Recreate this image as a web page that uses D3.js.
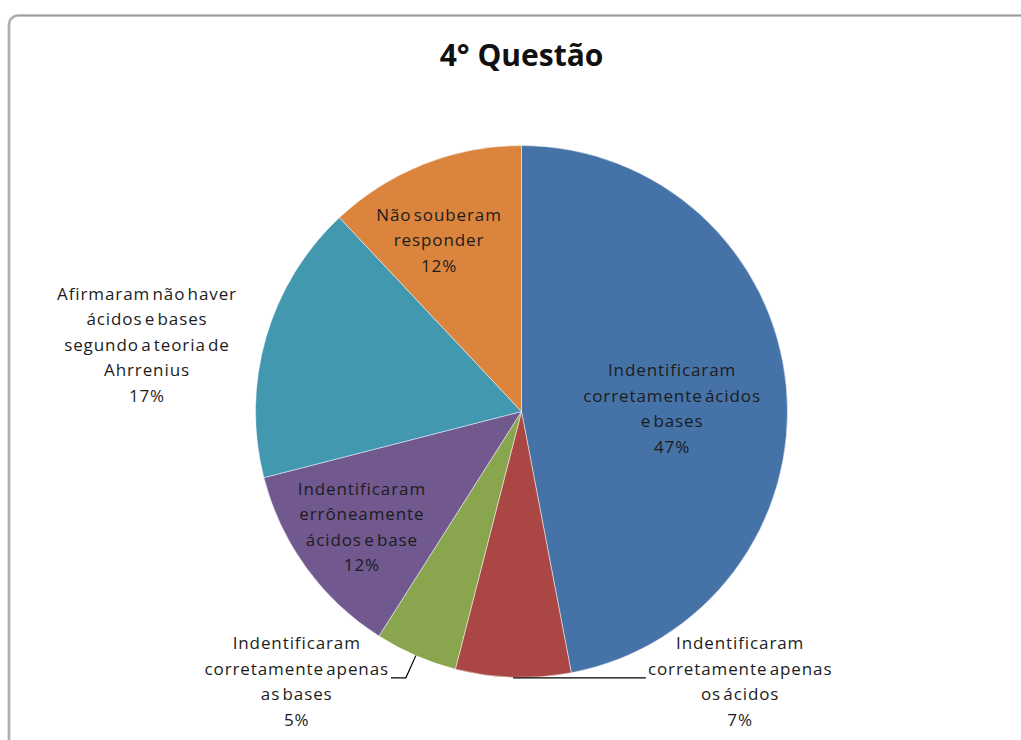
<!DOCTYPE html>
<html>
<head>
<meta charset="utf-8">
<script src="https://cdn.jsdelivr.net/npm/d3@7/dist/d3.min.js"></script>
<style>
  html, body { margin: 0; padding: 0; background: #fff; }
  svg { display: block; }
</style>
</head>
<body>
<svg id="chart" width="1021" height="740"></svg>
<script>
// Answers to question 4, share of students per answer (percent)
const categories = [
  "Indentificaram corretamente ácidos e bases",
  "Indentificaram corretamente apenas os ácidos",
  "Indentificaram corretamente apenas as bases",
  "Indentificaram errôneamente ácidos e base",
  "Afirmaram não haver ácidos e bases segundo a teoria de Ahrrenius",
  "Não souberam responder"
];
const values = [47, 7, 5, 12, 17, 12];
const labelLines = [
  ["Indentificaram", "corretamente ácidos", "e bases"],
  ["Indentificaram", "corretamente apenas", "os ácidos"],
  ["Indentificaram", "corretamente apenas", "as bases"],
  ["Indentificaram", "errôneamente", "ácidos e base"],
  ["Afirmaram não haver", "ácidos e bases", "segundo a teoria de", "Ahrrenius"],
  ["Não souberam", "responder"]
];
const colors = ["#4572A7", "#AA4643", "#89A54E", "#71588F", "#4198AF", "#DB843D"];
const title = "4° Questão";

const W = 1021, H = 740;
const cx = 521.5, cy = 411.5, R = 266;

// label block centres, expressed relative to the pie centre in units of R
const labelPlacement = [
  { dx: 0.566, dy: -0.012, leader: null },
  { dx: 0.822, dy: 1.015, leader: "right" },
  { dx: -0.845, dy: 1.015, leader: "left" },
  { dx: -0.60, dy: 0.434, leader: null },
  { dx: -1.408, dy: -0.252, leader: null },
  { dx: -0.31, dy: -0.645, leader: null }
];

const svg = d3.select("#chart");

// chart frame
svg.append("rect")
  .attr("x", 9).attr("y", 15.5)
  .attr("width", W + 40).attr("height", H + 40)
  .attr("rx", 9)
  .attr("fill", "#fff")
  .attr("stroke", "#c4c4c4")
  .attr("stroke-width", 3);
svg.append("rect")
  .attr("x", 9).attr("y", 15.5)
  .attr("width", W + 40).attr("height", H + 40)
  .attr("rx", 9)
  .attr("fill", "none")
  .attr("stroke", "#9a9a9a")
  .attr("stroke-width", 1);

svg.append("text")
  .attr("x", cx).attr("y", 66)
  .attr("text-anchor", "middle")
  .attr("font-family", "'Open Sans', sans-serif")
  .attr("font-weight", 700)
  .attr("font-size", 30)
  .attr("fill", "#111")
  .text(title);

const pie = d3.pie().sort(null).value(d => d)(values);
const arc = d3.arc().innerRadius(0).outerRadius(R);

const g = svg.append("g").attr("transform", `translate(${cx},${cy})`);

g.selectAll("path.slice")
  .data(pie)
  .join("path")
  .attr("class", "slice")
  .attr("d", arc)
  .attr("fill", (d, i) => colors[i])
  .attr("stroke", "#ffffff")
  .attr("stroke-opacity", 0.6)
  .attr("stroke-width", 0.8);

const lh = 25.5;
const fontSize = 17;

pie.forEach((d, i) => {
  const lines = labelLines[i].concat([Math.round(values[i]) + "%"]);
  const p = labelPlacement[i];
  const bx = p.dx * R, by = p.dy * R;
  const firstBaseline = by - (lines.length - 1) * lh / 2 + fontSize * 0.36;

  const t = g.append("text")
    .attr("text-anchor", "middle")
    .attr("font-family", "'Open Sans', sans-serif")
    .attr("font-size", fontSize)
    .attr("letter-spacing", 0.9)
    .attr("word-spacing", -3)
    .attr("fill", "#1c1c1c");
  lines.forEach((ln, k) => {
    t.append("tspan")
      .attr("x", bx)
      .attr("y", firstBaseline + k * lh)
      .text(ln);
  });

  if (p.leader) {
    const mid = (d.startAngle + d.endAngle) / 2;
    const ex = Math.sin(mid) * R, ey = -Math.cos(mid) * R;
    const ly = firstBaseline + lh + 3;
    // half-width of the second text line, where the leader meets the label
    const node = t.selectAll("tspan").nodes()[1];
    const half = node.getComputedTextLength() / 2;
    let pts;
    if (p.leader === "right") {
      pts = [[ex, ly], [bx - half - 2, ly]];
    } else {
      pts = [[ex, ey], [ex - 10, ly], [bx + half + 2, ly]];
    }
    g.append("path")
      .attr("d", d3.line()(pts))
      .attr("fill", "none")
      .attr("stroke", "#000")
      .attr("stroke-width", 1.2);
  }
});
</script>
</body>
</html>
